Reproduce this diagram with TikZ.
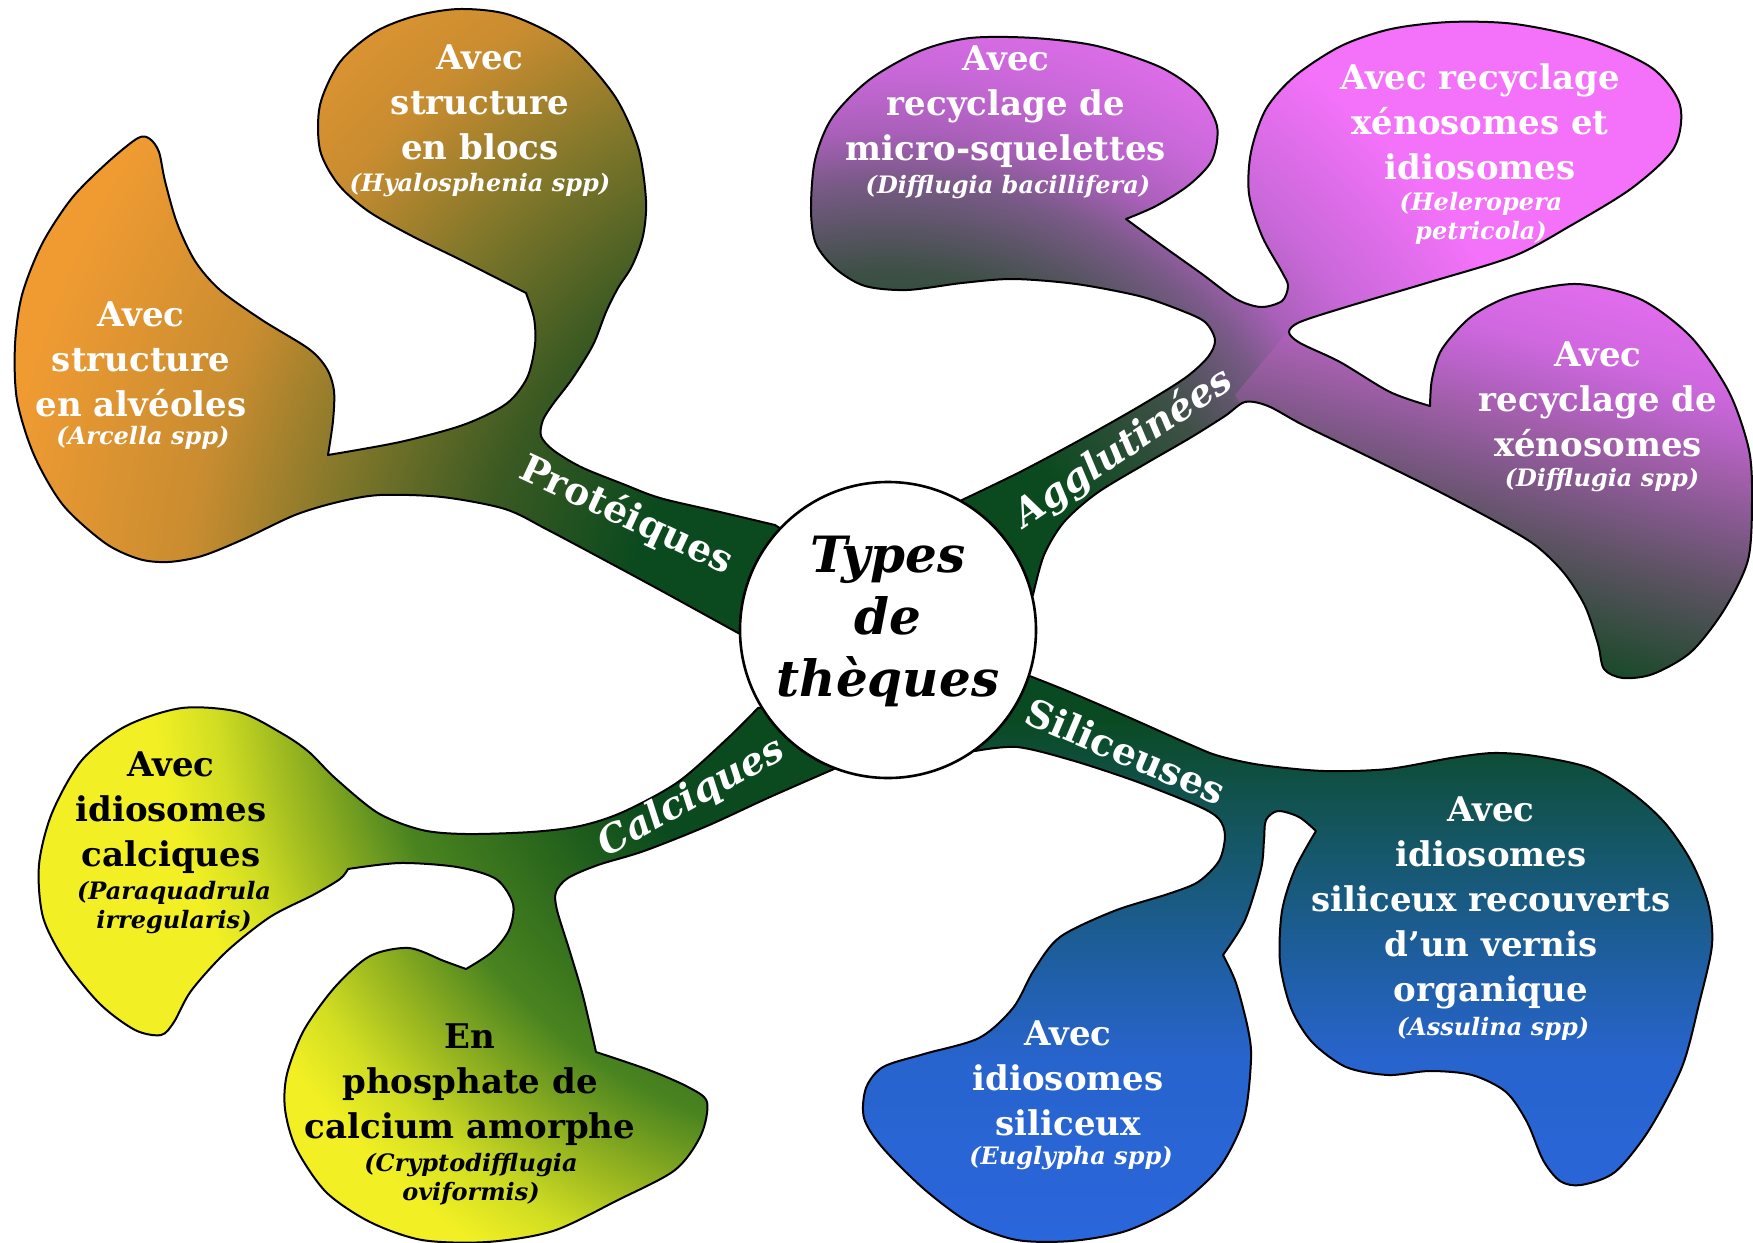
\documentclass[tikz,border=0pt]{standalone}
\usepackage{fontspec}
\setmainfont{DejaVu Serif}
\definecolor{dg}{RGB}{10,74,30}
\definecolor{pA}{RGB}{60,90,34}
\definecolor{pB}{RGB}{126,118,42}
\definecolor{pC}{RGB}{200,140,48}
\definecolor{pD}{RGB}{240,155,50}
\definecolor{aA}{RGB}{62,80,70}
\definecolor{aB}{RGB}{122,90,136}
\definecolor{aC}{RGB}{170,96,186}
\definecolor{aD}{RGB}{200,104,216}
\definecolor{aE}{RGB}{244,114,250}
\definecolor{cA}{RGB}{46,106,28}
\definecolor{cB}{RGB}{74,132,32}
\definecolor{cC}{RGB}{144,176,32}
\definecolor{cD}{RGB}{210,222,34}
\definecolor{cE}{RGB}{242,240,36}
\definecolor{sA}{RGB}{42,102,220}
\definecolor{sB}{RGB}{40,100,205}
\definecolor{sC}{RGB}{30,94,160}
\definecolor{sD}{RGB}{22,88,110}
\definecolor{sE}{RGB}{16,80,70}
\definecolor{sF}{RGB}{10,74,34}
\definecolor{xA}{RGB}{26,74,42}
\definecolor{xB}{RGB}{46,76,58}
\definecolor{xC}{RGB}{90,82,96}
\definecolor{xD}{RGB}{138,90,148}
\definecolor{xE}{RGB}{160,94,168}
\definecolor{xF}{RGB}{184,98,200}
\definecolor{xG}{RGB}{208,104,224}
\definecolor{xH}{RGB}{224,108,236}
\pgfdeclareradialshading{protsh}{\pgfpoint{0bp}{0bp}}{color(0bp)=(dg); color(6.5bp)=(dg); color(10.5bp)=(pA); color(14bp)=(pB); color(17.5bp)=(pC); color(22.5bp)=(pD); color(50bp)=(pD)}
\pgfdeclareradialshading{aggsh}{\pgfpoint{0bp}{0bp}}{color(0bp)=(dg); color(5.5bp)=(dg); color(9bp)=(aA); color(11.25bp)=(aB); color(12.5bp)=(aC); color(14bp)=(aD); color(17.5bp)=(aE); color(50bp)=(aE)}
\pgfdeclareradialshading{calcsh}{\pgfpoint{0bp}{0bp}}{color(0bp)=(dg); color(7.5bp)=(dg); color(10.5bp)=(cA); color(13bp)=(cB); color(15bp)=(cC); color(17bp)=(cD); color(18.5bp)=(cE); color(50bp)=(cE)}
\pgfdeclareverticalshading{silsh}{100bp}{color(0bp)=(sA); color(25bp)=(sA); color(40.2bp)=(sB); color(48.5bp)=(sC); color(56.8bp)=(sD); color(63.4bp)=(sE); color(68.4bp)=(sF); color(100bp)=(sF)}
\pgfdeclareverticalshading{xensh}{100bp}{color(0bp)=(xA); color(37.3bp)=(xA); color(39.7bp)=(xB); color(45.1bp)=(xC); color(50.8bp)=(xD); color(53.3bp)=(xE); color(56.3bp)=(xF); color(59.5bp)=(xG); color(64.1bp)=(xH); color(100bp)=(xH)}
\tikzset{
  blobline/.style={draw=black, line width=1pt, line join=round},
  maintxt/.style={align=center, font=\fontsize{17}{22.5}\selectfont\bfseries, inner sep=0pt},
  spectxt/.style={align=center, font=\fontsize{12}{14.5}\selectfont\bfseries\itshape, inner sep=0pt},
  lbl/.style={font=\fontsize{19}{22}\selectfont\bfseries, text=white, inner sep=0pt},
  lbli/.style={font=\fontsize{19}{22}\selectfont\bfseries\itshape, text=white, inner sep=0pt},
}
\def\Ppath{(860,580) -- plot[smooth] coordinates {(775,525) (720,512) (660,498) (623,484) (581,467) (553,450) (541,436) (543,420) (553,404) (572,379) (593,345) (606,312) (618,288) (632,266) (643,236) (646,200) (638,147) (614,95) (568,44) (510,15) (460,9) (415,16) (375,32) (340,62) (320,105) (320,150) (338,184) (368,211) (412,236) (463,261) (526,293)} -- plot[smooth] coordinates {(526,293) (534,318) (535,345) (527,378) (506,404) (463,425) (400,442) (328,455)} -- plot[smooth] coordinates {(328,455) (333,421) (334,391) (327,369) (309,349) (262,320) (220,290) (195,261) (177,223) (165,181) (159,152) (150,139) (138,138) (108,162) (72,198) (42,244) (22,295) (15,345) (17,400) (34,455) (63,505) (105,543) (139,559) (168,562) (202,556) (244,539) (295,515) (338,502) (380,495) (442,497) (505,509) (548,530) (610,563) (660,590) (700,612) (740,634)} -- (860,660) -- cycle}
\def\Apath{(900,600) -- plot[smooth] coordinates {(962,500) (1020,472) (1080,440) (1140,406) (1185,378) (1208,357) (1215,340) (1205,322) (1180,310) (1139,296) (1076,284) (1013,279) (962,283) (907,290) (865,286) (836,269) (816,244) (811,210) (815,160) (832,118) (869,80) (920,51) (970,38) (1034,38) (1097,46) (1160,67) (1198,93) (1217,126) (1212,160) (1189,185) (1156,206) (1126,219)} -- plot[smooth] coordinates {(1126,219) (1160,244) (1202,274) (1236,299) (1261,307) (1282,301) (1288,286) (1282,272) (1262,236) (1249,194) (1251,152) (1266,109) (1295,76) (1341,46) (1391,29) (1450,22) (1515,24) (1590,40) (1652,68) (1680,105) (1674,148) (1632,188) (1570,226) (1514,256) (1430,282) (1346,307) (1300,322) (1289,332) (1300,343) (1340,362) (1390,392) (1430,406)} -- plot[smooth] coordinates {(1430,406) (1432,379) (1442,349) (1472,316) (1514,295) (1577,284) (1640,299) (1691,337) (1729,392) (1749,450) (1752,501) (1748,560) (1724,610) (1691,652) (1653,674) (1623,678) (1604,669) (1598,644) (1585,606) (1564,573) (1535,545) (1493,520) (1430,487) (1367,456) (1303,425) (1268,406) (1245,402) (1225,416) (1190,438) (1145,464) (1097,493) (1064,522) (1044,555) (1033,595)} -- (900,650) -- cycle}
\def\Cpath{(850,700) -- plot[smooth] coordinates {(758,708) (728,738) (678,782) (623,812) (580,826) (531,832) (466,834) (422,830) (378,813) (335,778) (309,752) (283,734) (239,712) (182,708) (126,726) (82,760) (52,813) (39,865) (43,917) (65,961) (100,1004) (135,1030) (161,1035) (174,1022) (191,991) (226,952) (270,917) (313,895) (340,879) (348,869)} -- plot[smooth] coordinates {(348,869) (400,863) (457,867) (496,879) (513,904) (509,930) (492,952) (466,969)} -- plot[smooth] coordinates {(466,969) (444,961) (409,948) (370,956) (335,987) (304,1030) (287,1074) (285,1109) (296,1148) (326,1192) (370,1222) (422,1240) (487,1242) (553,1231) (618,1200) (675,1170) (701,1135) (707,1102) (688,1087) (649,1070) (596,1052)} -- plot[smooth] coordinates {(596,1052) (583,996) (570,952) (557,910) (556,892) (568,878) (598,865) (644,851) (707,826) (770,797) (834,769)} -- (850,700) -- cycle}
\def\Spath{(900,700) -- plot[smooth] coordinates {(1027,675) (1065,690) (1128,717) (1191,745) (1219,756) (1261,765) (1324,771) (1388,769) (1451,758) (1493,753) (1535,756) (1590,768) (1632,793) (1665,823) (1691,861) (1708,903) (1712,945) (1699,1004) (1682,1067) (1649,1130) (1615,1172) (1581,1185) (1560,1181) (1543,1160) (1527,1122) (1506,1092) (1472,1075) (1430,1071) (1388,1075) (1346,1067) (1312,1042) (1291,1008) (1280,962) (1282,911) (1295,869) (1316,831)} -- plot[smooth] coordinates {(1316,831) (1299,817) (1278,811) (1266,820) (1264,840) (1261,869) (1245,920) (1223,955)} -- plot[smooth] coordinates {(1223,955) (1236,983) (1248,1029) (1251,1060) (1244,1118) (1219,1168) (1177,1206) (1126,1231) (1071,1241) (1017,1240) (970,1223) (924,1189) (882,1147) (864,1118) (866,1088) (883,1067) (924,1054) (979,1038) (1013,1008) (1034,970) (1060,937) (1114,911) (1168,894) (1198,882) (1219,861) (1225,836) (1219,819) (1198,806) (1135,781) (1071,760) (1017,747) (975,751)} -- (900,700) -- cycle}
\begin{document}
\begin{tikzpicture}[x=0.5pt,y=-0.5pt]
\fill[white] (0,0) rectangle (1753,1243);
\useasboundingbox (0,0) rectangle (1753,1243);
% Proteiques
\begin{scope}
  \clip \Ppath;
  \shade[shading=protsh] (-112,-370) rectangle (1888,1630);
\end{scope}
\draw[blobline] \Ppath;
% Agglutinees
\begin{scope}
  \clip \Apath;
  \shade[shading=aggsh] (-112,-370) rectangle (1888,1630);
  \begin{scope}
    \clip (1285,335) -- (1430,292) -- (1560,258) -- (1700,190) -- (1800,190) -- (1800,760) -- (1500,760) -- (1250,420) -- (1235,395) -- cycle;
    \shade[shading=xensh, shading angle=-15] (1560,480) circle[radius=345];
  \end{scope}
\end{scope}
\draw[blobline] \Apath;
% Calciques
\begin{scope}
  \clip \Cpath;
  \shade[shading=calcsh] (-112,-370) rectangle (1888,1630);
\end{scope}
\draw[blobline] \Cpath;
% Siliceuses
\begin{scope}
  \clip \Spath;
  \shade[shading=silsh] (800,640) rectangle (1760,1243);
\end{scope}
\draw[blobline] \Spath;
% branch labels
\node[lbl, rotate=-25] (lP) at (626,516) {Protéiques};
\node[lbli, rotate=34] (lA) at (1124,448) {Agglutinées};
\node[lbli, rotate=29] (lC) at (692,798) {Calciques};
\node[lbl, rotate=-23] (lS) at (1126,751) {Siliceuses};
% centre
\node[circle, draw=black, line width=1.3pt, fill=white, minimum size=148pt, inner sep=0pt] (ctr) at (888,630) {};
\node[align=center, font=\fontsize{25}{31}\selectfont\bfseries\itshape, inner sep=0pt] (title) at (888,621) {Types\\de\\thèques};
% blob texts
\node[maintxt, text=white] (tBlocs) at (480,102) {Avec\\structure\\en blocs};
\node[spectxt, text=white] (sBlocs) at (480,185) {(Hyalosphenia spp)};
\node[maintxt, text=white] (tAlv) at (141,359) {Avec\\structure\\en alvéoles};
\node[spectxt, text=white] (sAlv) at (143,438) {(Arcella spp)};
\node[maintxt, text=white] (tMicro) at (1006,107) {Avec\\recyclage de\\micro-squelettes};
\node[spectxt, text=white] (sMicro) at (1008,187) {(Difflugia bacillifera)};
\node[maintxt, text=white] (tIdio) at (1480,122) {Avec recyclage\\xénosomes et\\idiosomes};
\node[spectxt, text=white] (sIdio) at (1481,218) {(Heleropera\\petricola)};
\node[maintxt, text=white] (tXeno) at (1598,399) {Avec\\recyclage de\\xénosomes};
\node[spectxt, text=white] (sXeno) at (1602,480) {(Difflugia spp)};
\node[maintxt] (tCalc) at (171,813) {Avec\\idiosomes\\calciques};
\node[spectxt] (sCalc) at (174,908) {(Paraquadrula\\irregularis)};
\node[maintxt] (tPhos) at (470,1085) {En\\phosphate de\\calcium amorphe};
\node[spectxt] (sPhos) at (471,1179) {(Cryptodifflugia\\oviformis)};
\node[maintxt, text=white] (tEug) at (1068,1078) {Avec\\idiosomes\\siliceux};
\node[spectxt, text=white] (sEug) at (1071,1158) {(Euglypha spp)};
\node[maintxt, text=white] (tAss) at (1491,903) {Avec\\idiosomes\\siliceux recouverts\\d’un vernis\\organique};
\node[spectxt, text=white] (sAss) at (1493,1029) {(Assulina spp)};
\end{tikzpicture}
\end{document}
